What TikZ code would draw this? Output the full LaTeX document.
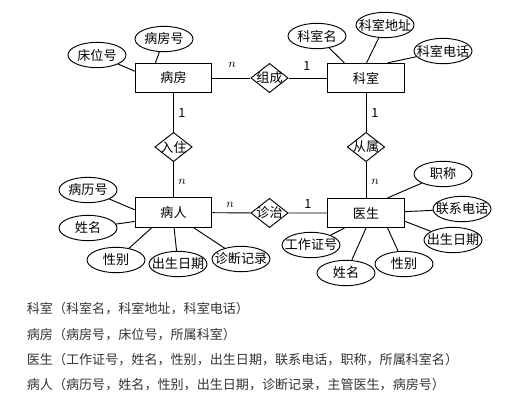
\documentclass[tikz,border=0pt]{standalone}
\usepackage{fontspec}
\setmainfont{Noto Sans CJK SC}
\usetikzlibrary{shapes.geometric}
\begin{document}
\begin{tikzpicture}[x=0.75pt, y=-0.75pt, line width=0.7pt,
  every node/.style={font=\fontsize{9.8}{11}\selectfont},
  ent/.style={draw, minimum width=57.5pt, minimum height=22pt, inner sep=0pt},
  attr/.style={draw, ellipse, minimum width=43.5pt, minimum height=19pt, inner sep=0pt, label=center:#1},
  rel/.style={draw, diamond, minimum width=28pt, minimum height=22pt, inner sep=0pt, label=center:#1},
  card/.style={font=\fontsize{9.5}{10}\selectfont}]
  \useasboundingbox (0,0) rectangle (529,400);
  % entities and relationships
  \node[ent] (bf) at (173.5,78) {病房};   \node[ent] (ks) at (366,78) {科室};
  \node[ent] (br) at (173.5,212.5) {病人}; \node[ent] (ys) at (366,213) {医生};
  \node[rel=组成] (zc) at (269.5,78) {};   \node[rel=入住] (rz) at (173.5,147) {};
  \node[rel=从属] (cs) at (366,147) {};    \node[rel=诊治] (zz) at (269.5,213) {};
  \draw (bf) -- (zc) -- (ks);  \draw (bf) -- (rz) -- (br);
  \draw (ks) -- (cs) -- (ys);  \draw (br) -- (zz) -- (ys);
  \node[card] (c1) at (232,65) {$n$}; \node[card] (c2) at (307,66) {1};
  \node[card] (c3) at (182,113) {1};  \node[card] (c4) at (182,182) {$n$};
  \node[card] (c5) at (375,113) {1};  \node[card] (c6) at (375,182) {$n$};
  \node[card] (c7) at (230,205) {$n$}; \node[card] (c8) at (308,204) {1};
  % attributes
  \node[attr=床位号] (cwh) at (97,55) {};    \node[attr=病房号] (bfh) at (164,39) {};
  \draw (cwh) -- (bf.170);  \draw (bfh) -- (bf.140);
  \node[attr=科室名] (ksm) at (317,36) {};   \node[attr=科室地址] (ksdz) at (385,25) {};
  \node[attr=科室电话] (ksdh) at (443,51) {};
  \draw (ksm) -- (ks.145);  \draw (ksdz) -- (ks.88);  \draw (ksdh) -- (ks.35);
  \node[attr=病历号] (blh) at (88,190) {};   \node[attr=姓名] (bxm) at (88,228) {};
  \node[attr=性别] (bxb) at (116,260) {};    \node[attr=出生日期] (bcs) at (178,264) {};
  \node[attr=诊断记录] (zdjl) at (241,259) {};
  \draw (blh) -- (br.176);  \draw (bxm) -- (br.193);  \draw (bxb) -- (br.215);
  \draw (bcs) -- (br.272);  \draw (zdjl) -- (br.323);
  \node[attr=职称] (zc2) at (443,174) {};    \node[attr=联系电话] (lxdh) at (462,209) {};
  \node[attr=出生日期] (ycs) at (453,240) {}; \node[attr=工作证号] (gzzh) at (311,245) {};
  \node[attr=姓名] (yxm) at (346,273) {};    \node[attr=性别] (yxb) at (404,264) {};
  \draw (zc2) -- (ys.35);  \draw (lxdh) -- (ys.2);  \draw (ycs) -- (ys.348);
  \draw (gzzh) -- (ys.215);  \draw (yxm) -- (ys.270);  \draw (yxb) -- (ys.325);
  % relational schemas
  \node[anchor=west, text=black!80] (r1) at (22,309) {科室（科室名，科室地址，科室电话）};
  \node[anchor=west, text=black!80] (r2) at (22,335) {病房（病房号，床位号，所属科室）};
  \node[anchor=west, text=black!80] (r3) at (22,360) {医生（工作证号，姓名，性别，出生日期，联系电话，职称，所属科室名）};
  \node[anchor=west, text=black!80] (r4) at (22,385) {病人（病历号，姓名，性别，出生日期，诊断记录，主管医生，病房号）};
\end{tikzpicture}
\end{document}
